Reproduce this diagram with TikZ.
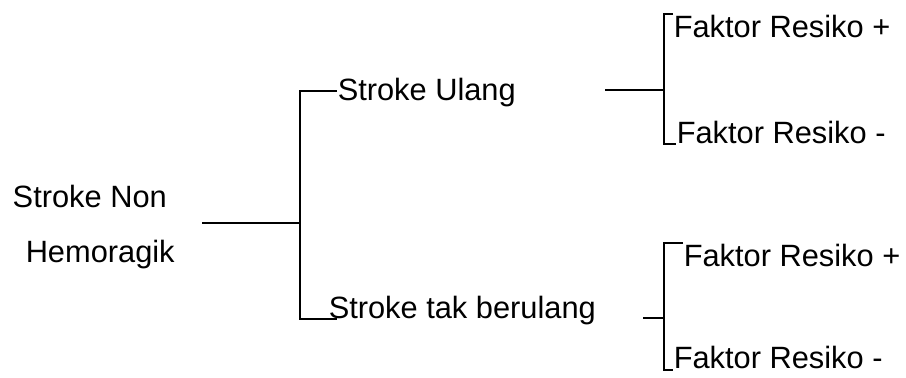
\documentclass[tikz,border=0pt]{standalone}
\usepackage{fontspec}
\setmainfont{Liberation Sans}
\usetikzlibrary{positioning}

\begin{document}
\begin{tikzpicture}[x=0.5pt, y=-0.5pt, line width=0.75pt,
    txt/.style={anchor=base west, inner sep=0pt, font=\fontsize{15.4}{18}\selectfont}]
    \useasboundingbox (0,0) rectangle (906,377);
    % root
    \node[txt] (rootA) at (12,207) {Stroke Non};
    \node[txt] (rootB) at (25,262) {Hemoragik};
    \coordinate (rootR) at (202,223);
    \coordinate (fork) at (300,223);
    \draw (rootR) -- (fork);
    % first split
    \node[txt] (ulang) at (337,100) {Stroke Ulang};
    \node[txt] (tidak) at (328,318) {Stroke tak berulang};
    \coordinate (forkT) at (300,91);
    \coordinate (forkB) at (300,319);
    \draw (ulang.west |- forkT) -- (forkT) -- (forkB) -- ([xshift=4.5pt]tidak.west |- forkB);
    % risk factors, upper
    \node[txt] (plusA) at (673,37) {Faktor Resiko +};
    \node[txt] (minA) at (676,143) {Faktor Resiko -};
    \coordinate (ulangR) at (605,90);
    \coordinate (brA) at (664,90);
    \coordinate (brAT) at (664,14);
    \coordinate (brAB) at (664,144);
    \draw (ulangR) -- (brA);
    \draw (plusA.west |- brAT) -- (brAT) -- (brAB) -- (minA.west |- brAB);
    % risk factors, lower
    \node[txt] (plusB) at (683,266) {Faktor Resiko +};
    \node[txt] (minB) at (673,368) {Faktor Resiko -};
    \coordinate (tidakR) at (643,318);
    \coordinate (brB) at (664,318);
    \coordinate (brBT) at (664,243);
    \coordinate (brBB) at (664,370);
    \draw (tidakR) -- (brB);
    \draw (plusB.west |- brBT) -- (brBT) -- (brBB) -- (minB.west |- brBB);
\end{tikzpicture}
\end{document}
